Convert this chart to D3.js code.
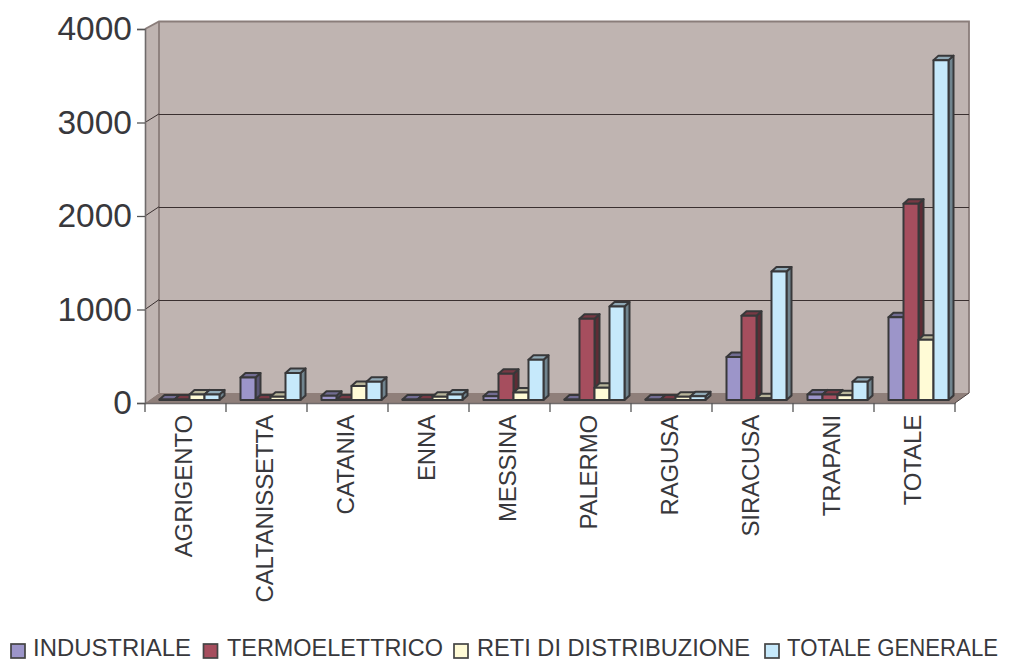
<!DOCTYPE html>
<html><head><meta charset="utf-8">
<script src="https://cdn.jsdelivr.net/npm/d3@7"></script>
<style>html,body{margin:0;padding:0;background:#fff}svg{display:block}</style>
</head><body><div id="c"></div>
<script>
const categories = ["AGRIGENTO","CALTANISSETTA","CATANIA","ENNA","MESSINA","PALERMO","RAGUSA","SIRACUSA","TRAPANI","TOTALE"];
const seriesNames = ["INDUSTRIALE","TERMOELETTRICO","RETI DI DISTRIBUZIONE","TOTALE GENERALE"];
const industriale = [5,240,45,5,40,5,5,460,60,885];
const termoelettrico = [5,5,5,5,280,870,5,900,60,2100];
const reti = [60,35,150,35,80,130,35,20,50,645];
const totaleGenerale = [60,290,195,60,430,1000,40,1375,195,3635];
const yTicks = [0,1000,2000,3000,4000];
const seriesValues = [industriale,termoelettrico,reti,totaleGenerale];
const fills = ["#9c95c9","#a64e5e","#fffbd6","#c6e9fb"];
const W=1013,H=661, pL=145,pR=955,pB=403,pT=29, dx=14, backB=393,backT=21.5;
const svg=d3.select("#c").append("svg").attr("width",W).attr("height",H).style("font-family","'Liberation Sans',Arial,sans-serif");
const x=d3.scaleBand().domain(categories).range([pL,pR]);
const y=d3.scaleLinear().domain([0,4000]).range([pB,pT]);
const yBack=d3.scaleLinear().domain([0,4000]).range([392.5,21]);
const wall="#bfb4b1",floorC="#8f7f7a",edge="#8a7d7a",ink="#38383c";
const poly=(pts)=>pts.map(p=>p.join(",")).join(" ");
svg.append("polygon").attr("points",poly([[pL,pT],[pL+dx,backT],[pR+dx,backT],[pR+dx,backB],[pL+dx,backB],[pL,pB]])).attr("fill",wall);
svg.append("polygon").attr("points",poly([[pL,pB],[pL+dx,backB],[pR+dx,backB],[pR,pB]])).attr("fill",floorC);
svg.append("path").attr("d",`M${pL},${pT}L${pL+dx},${backT}H${pR+dx}V${backB}M${pL+dx},${backT}V${backB}`).attr("fill","none").attr("stroke",edge).attr("stroke-width",1.8);
svg.selectAll(".g").data(yTicks.slice(1,-1)).enter().append("line")
 .attr("x1",pL+dx).attr("x2",pR+dx).attr("y1",d=>Math.round(yBack(d))+0.5).attr("y2",d=>Math.round(yBack(d))+0.5)
 .attr("stroke","#3a3030").attr("stroke-width",1);
svg.selectAll(".gs").data(yTicks.slice(1,-1)).enter().append("line")
 .attr("x1",pL).attr("x2",pL+dx).attr("y1",d=>y(d)).attr("y2",d=>yBack(d))
 .attr("stroke","#3a3030").attr("stroke-width",1);
svg.append("line").attr("x1",pR).attr("y1",pB).attr("x2",pR+dx).attr("y2",backB).attr("stroke","#4a4040").attr("stroke-width",1);
const bw=15,bdx=5,bdy=-4.5,off=14.5,lift=3;
const barStroke="#38383a";
function shade(c,k){return d3.color(c).darker(k).formatHex();}
categories.forEach((c,ci)=>{
 seriesValues.forEach((vals,si)=>{
  const x0=x(c)+off+si*bw, x1=x0+bw, y0=y(0)-lift, yt=y(vals[ci])-lift;
  const g=svg.append("g").attr("stroke",barStroke).attr("stroke-width",2).attr("stroke-linejoin","round");
  g.append("polygon").attr("points",poly([[x1,yt],[x1+bdx,yt+bdy],[x1+bdx,y0+bdy],[x1,y0]])).attr("fill",shade(fills[si],1.6));
  g.append("polygon").attr("points",poly([[x0,yt],[x0+bdx,yt+bdy],[x1+bdx,yt+bdy],[x1,yt]])).attr("fill",shade(fills[si],0.9));
  g.append("rect").attr("x",x0).attr("y",yt).attr("width",bw).attr("height",y0-yt).attr("fill",fills[si]);
 });
});
const yAxis=d3.axisLeft(y).tickValues(yTicks).tickSize(8).tickPadding(5).tickFormat(d3.format("d"));
const gy=svg.append("g").attr("transform",`translate(${pL},0)`).call(yAxis);
gy.selectAll("text").attr("font-size",33.5).attr("fill",ink).attr("font-family","'Liberation Sans',Arial,sans-serif");
gy.selectAll("line").attr("stroke","#555").attr("stroke-width",1.3);
gy.select(".domain").attr("stroke","#6f6a6a").attr("stroke-width",1.6);
const xAxis=d3.axisBottom(x).tickSize(0).tickPadding(0);
const gx=svg.append("g").attr("transform",`translate(0,${pB})`).call(xAxis);
gx.select(".domain").attr("stroke","#6f6a6a").attr("stroke-width",1.6);
gx.selectAll(".tick text").attr("font-size",24).attr("letter-spacing",-0.15).attr("fill",ink).attr("font-family","'Liberation Sans',Arial,sans-serif")
 .attr("text-anchor","end").attr("dy",0).attr("y",0).attr("x",0)
 .attr("dominant-baseline","middle").attr("transform","translate(0,12) rotate(-90)");
svg.selectAll(".xt").data(d3.range(categories.length+1)).enter().append("line")
 .attr("x1",i=>i<categories.length?x(categories[i]):pR).attr("x2",i=>i<categories.length?x(categories[i]):pR)
 .attr("y1",pB).attr("y2",pB+9).attr("stroke","#555").attr("stroke-width",1.3);
const lg=svg.append("g").attr("class","legend");
const swatchX=[11,203.5,454,765];
const labelX=[33,227,477,787];
const labelW=[158,216,273,211];
seriesNames.forEach((n,i)=>{
 lg.append("rect").attr("x",swatchX[i]).attr("y",644).attr("width",14).attr("height",14).attr("fill",fills[i]).attr("stroke","#444").attr("stroke-width",1.7);
 lg.append("text").attr("x",labelX[i]).attr("y",655.5).attr("font-size",23.5)
  .attr("textLength",labelW[i]).attr("lengthAdjust","spacingAndGlyphs").attr("fill",ink).text(n);
});
</script></body></html>
